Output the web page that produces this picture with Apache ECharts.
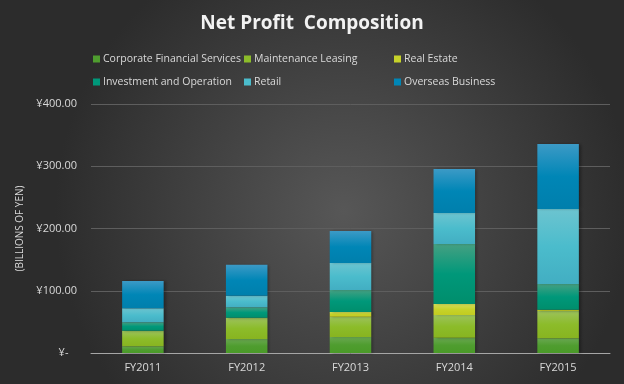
<!DOCTYPE html>
<html>
<head>
<meta charset="utf-8">
<script src="https://cdn.jsdelivr.net/npm/echarts@6/dist/echarts.min.js"></script>
<style>html,body{margin:0;padding:0;background:#333;}#c{width:624px;height:384px;}</style>
</head>
<body>
<div id="c"></div>
<script>
var categories = ['FY2011', 'FY2012', 'FY2013', 'FY2014', 'FY2015'];
var seriesNames = ['Corporate Financial Services', 'Maintenance Leasing', 'Real Estate', 'Investment and Operation', 'Retail', 'Overseas Business'];
var corporate = [10.7, 22.5, 25.7, 24.6, 23.6];
var maintenance = [24.6, 33.7, 32.6, 36.4, 43.9];
var realEstate = [0.5, 0.5, 7.6, 17.7, 2.1];
var investment = [13.5, 16.6, 35.3, 96.4, 41.2];
var retail = [22.4, 18.8, 43.4, 49.8, 120.5];
var overseas = [44.0, 49.8, 51.4, 70.7, 104.4];
var yTicks = [0, 100, 200, 300, 400];

var values = [corporate, maintenance, realEstate, investment, retail, overseas];
var baseColors = ['#4f9d2f', '#8cbc2a', '#c6d22a', '#00987a', '#4bbccc', '#0086b6'];
var topColors = ['#6aa851', '#9cc25c', '#d2dc58', '#45a082', '#6cc4d0', '#3c9ac6'];
var botColors = ['#4a9a28', '#88b420', '#c2cc20', '#008e6c', '#42aec2', '#007fac'];

var chart = echarts.init(document.getElementById('c'), null, {renderer: 'canvas'});
var textColor = '#d9d9d9';
var series = seriesNames.map(function (n, i) {
  return {
    name: n,
    type: 'bar',
    stack: 'total',
    barWidth: '40%',
    data: values[i],
    itemStyle: {
      color: {
        type: 'linear', x: 0, y: 0, x2: 0, y2: 1,
        colorStops: [
          {offset: 0, color: topColors[i]},
          {offset: 0.5, color: baseColors[i]},
          {offset: 1, color: botColors[i]}
        ]
      },
      shadowColor: 'rgba(0,0,0,0.35)',
      shadowBlur: 3,
      shadowOffsetX: 2
    },
    emphasis: {disabled: true}
  };
});

function legendCol(left, names) {
  return {
    orient: 'vertical',
    left: left,
    top: 47,
    itemWidth: 7,
    itemHeight: 7,
    itemGap: 9,
    icon: 'rect',
    textStyle: {color: textColor, fontSize: 10.5, fontFamily: 'Open Sans', padding: [0, 0, 0, -2], lineHeight: 14},
    data: names.map(function (n) {
      var idx = seriesNames.indexOf(n);
      return {name: n, itemStyle: {color: baseColors[idx]}};
    })
  };
}

chart.setOption({
  backgroundColor: {
    type: 'radial', x: 0.55, y: 0.55, r: 0.75,
    colorStops: [{offset: 0, color: '#575757'}, {offset: 1, color: '#2c2c2c'}]
  },
  animation: false,
  title: {
    text: 'Net Profit  Composition',
    left: 'center',
    top: 9,
    textStyle: {color: '#f2f2f2', fontSize: 19, fontWeight: 'bold', fontFamily: 'Open Sans'}
  },
  legend: [
    legendCol(88, [seriesNames[0], seriesNames[3]]),
    legendCol(239, [seriesNames[1], seriesNames[4]]),
    legendCol(389, [seriesNames[2], seriesNames[5]])
  ],
  grid: {left: 91, right: 14, top: 104, bottom: 31},
  xAxis: {
    type: 'category',
    data: categories,
    axisTick: {show: false},
    axisLine: {lineStyle: {color: '#a6a6a6', width: 1}},
    axisLabel: {color: textColor, fontSize: 11, fontFamily: 'Open Sans', margin: 9}
  },
  yAxis: {
    type: 'value',
    min: yTicks[0],
    max: yTicks[yTicks.length - 1],
    interval: 100,
    name: '(BILLIONS OF YEN)',
    nameLocation: 'middle',
    nameGap: 56,
    nameTextStyle: {color: textColor, fontSize: 10, fontFamily: 'Open Sans'},
    axisLine: {show: false},
    axisTick: {show: false},
    axisLabel: {
      color: textColor, fontSize: 11, fontFamily: 'Open Sans', margin: 14,
      formatter: function (v) { return v === 0 ? '¥-   ' : '¥' + v.toFixed(2); }
    },
    splitLine: {lineStyle: {color: '#5e5e5e', width: 1}}
  },
  series: series
});
</script>
</body>
</html>
